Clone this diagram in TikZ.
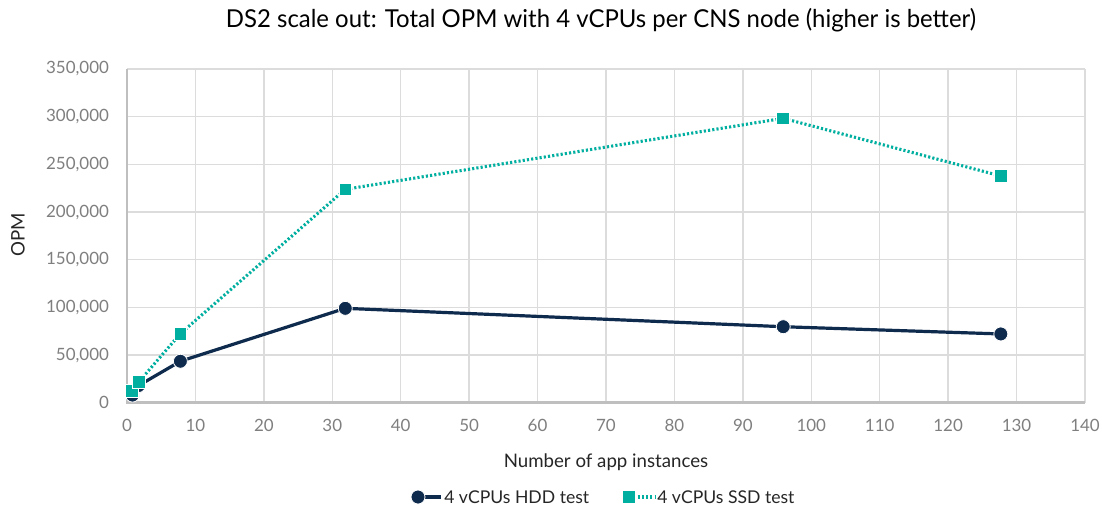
\documentclass[tikz,border=0pt]{standalone}
\usepackage{fontspec}
\setmainfont{Lato}
\newfontfamily\titlefont[FakeStretch=0.97]{Lato}
\definecolor{navy}{HTML}{0E2A4D}
\definecolor{teal}{HTML}{00AFA0}
\definecolor{gridc}{HTML}{DCDCDC}
\definecolor{axisc}{HTML}{BFBFBF}
\definecolor{tickc}{HTML}{7F7F7F}
\definecolor{txt}{HTML}{262626}
\tikzset{
  gridline/.style={draw=gridc, line width=1.1pt},
  axisline/.style={draw=axisc, line width=2pt},
  ticklab/.style={text=tickc, font=\fontsize{12.7}{14}\selectfont, inner sep=0pt},
  hddline/.style={draw=navy, line width=2.4pt, line join=round},
  ssdline/.style={draw=teal, line width=2.3pt, dash pattern=on 1.6pt off 1.6pt},
  hddmark/.style={circle, fill=navy, draw=white, line width=0.6pt, minimum size=10.5pt, inner sep=0pt},
  ssdmark/.style={rectangle, fill=teal, draw=white, line width=0.5pt, minimum size=9.6pt, inner sep=0pt},
  axtitle/.style={text=txt, font=\fontsize{14}{16}\selectfont},
  legtext/.style={text=txt, font=\fontsize{13.2}{15}\selectfont, anchor=west, inner sep=0pt},
}
\begin{document}
\begin{tikzpicture}[x=0.75pt, y=-0.75pt]
\useasboundingbox[fill=white] (0,0) rectangle (1102,511);
\node[font=\titlefont\fontsize{18.5}{22}\selectfont, text=black] (title) at (601,20) {DS2 scale out: Total OPM with 4 vCPUs per CNS node (higher is better)};
\begin{scope}[shift={(127,402.7)}, x=5.132pt, y=0.71505pt]
  % grid
  \foreach \v in {50,100,...,350} \draw[gridline] (0,\v) -- (140,\v);
  \foreach \u in {10,20,...,140} \draw[gridline] (\u,0) -- (\u,350);
  \draw[axisline] (0,350) -- (0,0) -- (140,0);
  % tick labels
  \foreach \v/\l in {0/0,50/{50,000},100/{100,000},150/{150,000},200/{200,000},250/{250,000},300/{300,000},350/{350,000}}
    \node[ticklab, anchor=east] (yl\v) at (-2.6,\v) {\l};
  \foreach \u in {0,10,...,140}
    \node[ticklab, anchor=center] (xl\u) at (\u,-24) {\u};
  % data
  \coordinate (h1) at (0.8,8);
  \coordinate (h2) at (1.7,18);
  \coordinate (h3) at (7.8,43.5);
  \coordinate (h4) at (31.9,99);
  \coordinate (h5) at (95.9,79.7);
  \coordinate (h6) at (127.7,72.1);
  \coordinate (s1) at (0.75,12.6);
  \coordinate (s2) at (1.75,22);
  \coordinate (s3) at (7.8,72.4);
  \coordinate (s4) at (31.9,223.8);
  \coordinate (s5) at (95.9,298.3);
  \coordinate (s6) at (127.7,237.8);
  \draw[hddline] (h1) -- (h2) -- (h3) -- (h4) -- (h5) -- (h6);
  \foreach \i in {1,...,6} \node[hddmark] (H\i) at (h\i) {};
  \draw[ssdline] (s1) -- (s2) -- (s3) -- (s4) -- (s5) -- (s6);
  \foreach \i in {1,...,6} \node[ssdmark] (S\i) at (s\i) {};
\end{scope}
\node[rotate=90, axtitle] (ylab) at (18,235) {OPM};
\node[axtitle] (xlab) at (606,462) {Number of app instances};
% legend
\coordinate (lh1) at (418,497);
\coordinate (lh2) at (441,497);
\draw[hddline] (lh1) -- (lh2);
\node[hddmark] (LH) at (lh1) {};
\node[legtext] (lht) at (444,497) {4 vCPUs HDD test};
\coordinate (ls1) at (629,497);
\coordinate (ls2) at (656,497);
\draw[ssdline] (ls1) -- (ls2);
\node[ssdmark] (LS) at (ls1) {};
\node[legtext] (lst) at (657,497) {4 vCPUs SSD test};
\end{tikzpicture}
\end{document}
